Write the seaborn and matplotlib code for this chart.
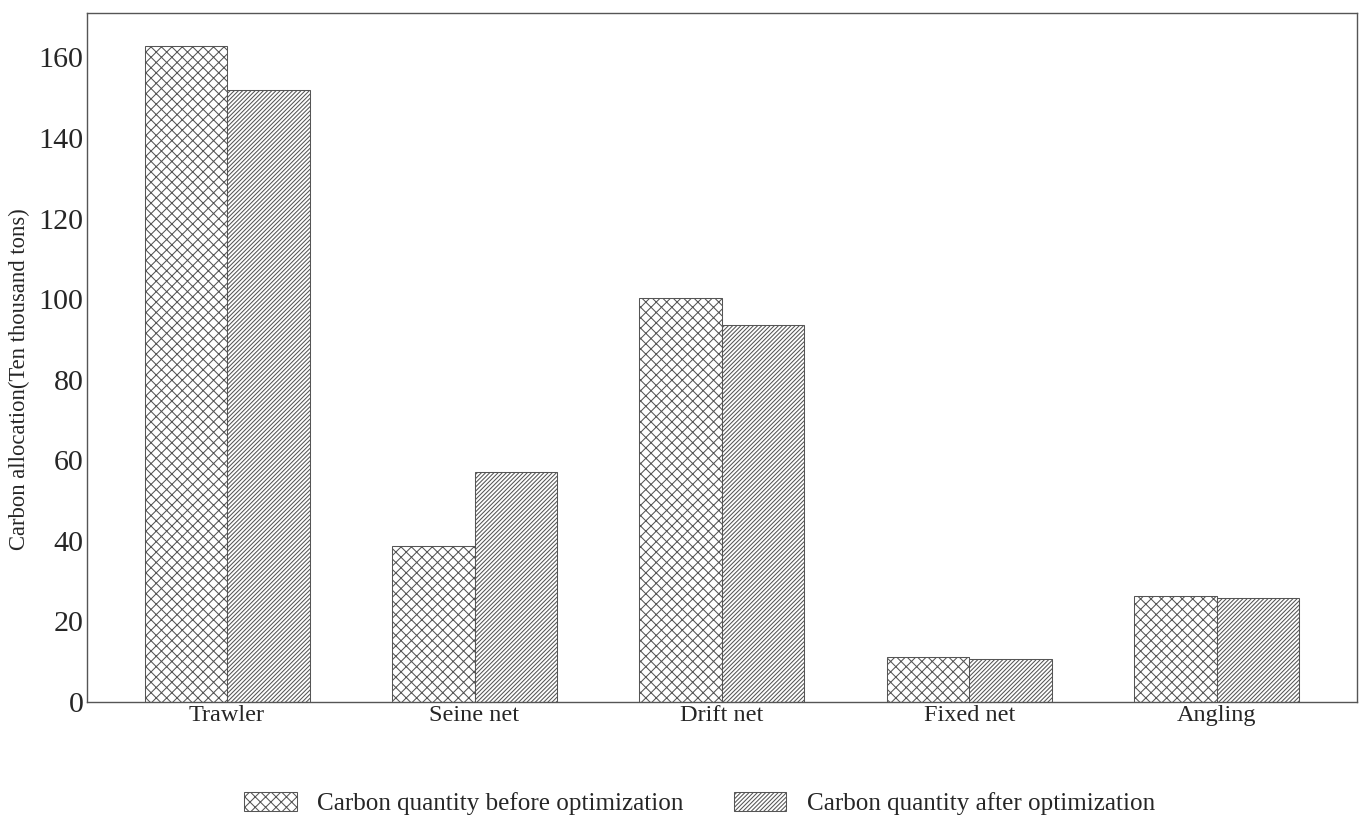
import pandas as pd
import matplotlib
matplotlib.use("Agg")
import matplotlib.pyplot as plt
import seaborn as sns
from matplotlib.patches import Patch

# datos
gears = ["Trawler", "Seine net", "Drift net", "Fixed net", "Angling"]
before = [162.8, 38.7, 100.2, 11.2, 26.3]
after = [151.9, 57.1, 93.5, 10.7, 25.8]
series = ["Carbon quantity before optimization", "Carbon quantity after optimization"]
yticks = [0, 20, 40, 60, 80, 100, 120, 140, 160]

df = pd.DataFrame({
    "gear": gears * 2,
    "value": before + after,
    "series": [series[0]] * len(gears) + [series[1]] * len(gears),
})

sns.set_style("white")
plt.rcParams["font.family"] = ["Liberation Serif", "DejaVu Serif"]
plt.rcParams["hatch.linewidth"] = 0.6
plt.rcParams["hatch.color"] = "#555555"

fig = plt.figure(figsize=(10.872, 6.52), dpi=125)
ax = fig.add_axes([0.064, 0.1387, 0.9345, 0.8453])

sns.barplot(data=df, x="gear", y="value", hue="series", palette=["white", "white"],
            edgecolor="#555555", linewidth=0.6, width=0.667, gap=0, ax=ax)

hatches = ["xxxx", "//////////"]
for cont, h in zip(ax.containers, hatches):
    for bar in cont:
        bar.set_hatch(h)

ax.set_xlim(-0.566, 4.566)
ax.set_ylim(0, 171)
ax.set_yticks(yticks)
ax.tick_params(axis="y", length=0, pad=2, labelsize=17.3)
ax.tick_params(axis="x", length=0, pad=2, labelsize=14)
ax.set_xlabel("")
ax.set_ylabel("Carbon allocation(Ten thousand tons)", fontsize=13)
ax.yaxis.set_label_coords(-0.045, 0.469)
for s in ax.spines.values():
    s.set_visible(True)
    s.set_color("#555555")
    s.set_linewidth(0.8)

ax.get_legend().remove()
handles = [Patch(facecolor="white", edgecolor="#555555", hatch=h, linewidth=0.6) for h in hatches]
fig.legend(handles, series, loc="center", bbox_to_anchor=(0.515, 0.014), ncol=2, frameon=False,
           fontsize=14.5, handlelength=2.07, handleheight=0.75, handletextpad=0.83, columnspacing=2.0)

fig.savefig("out.png", dpi=125)
